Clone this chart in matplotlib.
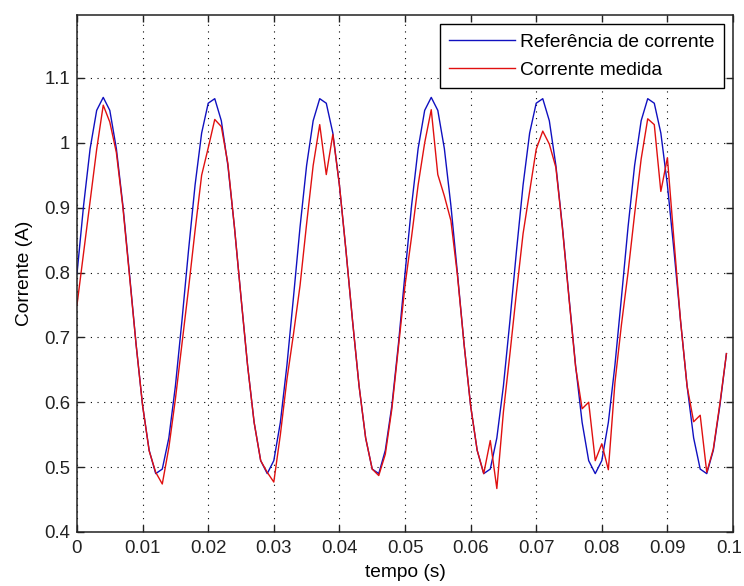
import numpy as np
import matplotlib
matplotlib.use('Agg')
import matplotlib.pyplot as plt
import matplotlib.transforms as mtransforms
from matplotlib.ticker import FixedLocator

# --- values (one sample per millisecond, 0 .. 99 ms)
t_ms = np.arange(100)

ref_current = [
    0.798, 0.903, 0.991, 1.050, 1.070, 1.050, 0.991, 0.903, 0.798, 0.690,
    0.595, 0.526, 0.490, 0.497, 0.545, 0.625, 0.726, 0.834, 0.935, 1.015,
    1.061, 1.068, 1.034, 0.965, 0.870, 0.762, 0.657, 0.569, 0.510, 0.490,
    0.510, 0.569, 0.657, 0.762, 0.870, 0.965, 1.034, 1.068, 1.061, 1.015,
    0.935, 0.834, 0.726, 0.625, 0.545, 0.497, 0.490, 0.526, 0.595, 0.690,
    0.798, 0.903, 0.991, 1.050, 1.070, 1.050, 0.991, 0.903, 0.798, 0.690,
    0.595, 0.526, 0.490, 0.497, 0.545, 0.625, 0.726, 0.834, 0.935, 1.015,
    1.061, 1.068, 1.034, 0.965, 0.870, 0.762, 0.657, 0.569, 0.510, 0.490,
    0.510, 0.569, 0.657, 0.762, 0.870, 0.965, 1.034, 1.068, 1.061, 1.015,
    0.935, 0.834, 0.726, 0.625, 0.545, 0.497, 0.490, 0.526, 0.595, 0.675,
]

measured_current = [
    0.750, 0.830, 0.910, 0.990, 1.058, 1.032, 0.985, 0.900, 0.795, 0.690,
    0.595, 0.525, 0.492, 0.474, 0.530, 0.605, 0.690, 0.775, 0.865, 0.950,
    0.992, 1.036, 1.025, 0.968, 0.870, 0.762, 0.657, 0.569, 0.510, 0.492,
    0.477, 0.550, 0.635, 0.705, 0.780, 0.875, 0.965, 1.028, 0.951, 1.013,
    0.935, 0.834, 0.726, 0.625, 0.545, 0.497, 0.487, 0.520, 0.590, 0.685,
    0.780, 0.855, 0.935, 1.000, 1.051, 0.951, 0.918, 0.880, 0.795, 0.690,
    0.595, 0.526, 0.490, 0.541, 0.467, 0.585, 0.675, 0.770, 0.860, 0.925,
    0.990, 1.018, 0.998, 0.962, 0.868, 0.760, 0.655, 0.590, 0.600, 0.510,
    0.536, 0.496, 0.630, 0.720, 0.800, 0.890, 0.975, 1.037, 1.028, 0.925,
    0.977, 0.850, 0.726, 0.625, 0.570, 0.580, 0.492, 0.528, 0.598, 0.675,
]

xtick_vals = [0, 0.01, 0.02, 0.03, 0.04, 0.05, 0.06, 0.07, 0.08, 0.09, 0.1]
xtick_labels = ['0', '0.01', '0.02', '0.03', '0.04', '0.05', '0.06', '0.07', '0.08', '0.09', '0.1']
ytick_vals = [0.4, 0.5, 0.6, 0.7, 0.8, 0.9, 1.0, 1.1]
ytick_labels = ['0.4', '0.5', '0.6', '0.7', '0.8', '0.9', '1', '1.1']

plt.rcParams['font.family'] = ['Liberation Sans', 'DejaVu Sans']
fs = 13.4

t = t_ms / 1000.0

fig = plt.figure(figsize=(7.44, 5.86), dpi=100)
ax = fig.add_axes([77 / 744, 54 / 586, 656 / 744, 517 / 586])

ax.plot(t, ref_current, color='#1010c0', lw=1.0, label='Referência de corrente')
ax.plot(t, measured_current, color='#e01010', lw=1.0, label='Corrente medida')

ax.set_xlim(0, 0.1)
ax.set_ylim(0.4, 1.197)
ax.xaxis.set_major_locator(FixedLocator(xtick_vals))
ax.yaxis.set_major_locator(FixedLocator(ytick_vals))
ax.set_xticklabels(xtick_labels)
ax.set_yticklabels(ytick_labels)

ax.grid(True, color='black', linestyle=(0, (1, 5)), linewidth=0.8)
ax.tick_params(direction='in', top=True, right=True, length=5, width=1,
               labelsize=fs, colors='#222222')
ax.tick_params(axis='x', pad=6)
ax.tick_params(axis='y', pad=5)
for sp in ax.spines.values():
    sp.set_linewidth(1.1)
    sp.set_color('#222222')

# the last x label sits on the figure edge; nudge it in a little so it isn't clipped
last = ax.get_xticklabels()[-1]
last.set_transform(last.get_transform() + mtransforms.ScaledTranslation(-2.5 / 72, 0, fig.dpi_scale_trans))

ax.set_xlabel('tempo (s)', fontsize=fs + 0.4, labelpad=5)
ax.set_ylabel('Corrente (A)', fontsize=fs + 0.4, labelpad=8)

leg = ax.legend(loc='upper right', fontsize=fs + 0.4, fancybox=False, framealpha=1,
                edgecolor='black', handlelength=3.4, handletextpad=0.3,
                borderpad=0.5, labelspacing=0.55, borderaxespad=0.45)
leg.get_frame().set_linewidth(1.0)

fig.savefig('out.png', dpi=100)
